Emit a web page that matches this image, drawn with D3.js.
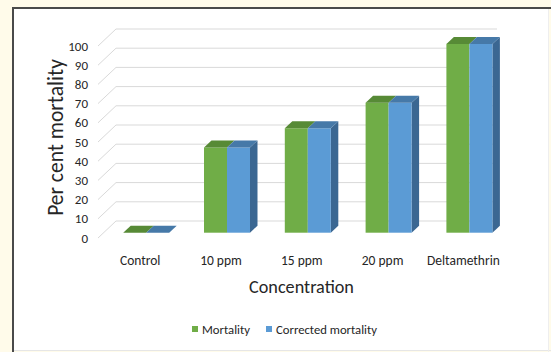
<!DOCTYPE html>
<html>
<head>
<meta charset="utf-8">
<script src="https://cdn.jsdelivr.net/npm/d3@7/dist/d3.min.js"></script>
<style>
  html, body { margin: 0; padding: 0; background: #fffbea; }
  svg { display: block; }
  text { font-family: Carlito, Lato, "Open Sans", sans-serif; fill: #262626; }
</style>
</head>
<body>
<div id="chart"></div>
<script>
// Data
const categories = ["Control", "10 ppm", "15 ppm", "20 ppm", "Deltamethrin"];
const seriesNames = ["Mortality", "Corrected mortality"];
const mortality = [0, 44.4, 54.4, 67.7, 98.3];
const correctedMortality = [0, 44.4, 54.4, 67.7, 98.3];
const yTicks = [0, 10, 20, 30, 40, 50, 60, 70, 80, 90, 100];

const seriesValues = [mortality, correctedMortality];
const frontColors = ["#70ad47", "#5b9bd5"];
const topColors = ["#578a36", "#4679a8"];
const sideColor = "#3b6792";

const W = 551, H = 352;
const svg = d3.select("#chart").append("svg")
  .attr("width", W).attr("height", H);

// Chart panel with an inset frame
svg.append("rect").attr("x", 13).attr("y", 8).attr("width", W - 15).attr("height", H - 10)
  .attr("fill", "#ffffff");
svg.append("line").attr("x1", 13).attr("x2", 13).attr("y1", 7).attr("y2", H)
  .attr("stroke", "#4a4a4a").attr("stroke-width", 2);
svg.append("line").attr("x1", 12).attr("x2", W).attr("y1", 8).attr("y2", 8)
  .attr("stroke", "#4a4a4a").attr("stroke-width", 2);
svg.append("line").attr("x1", 14).attr("x2", W).attr("y1", H - 1.5).attr("y2", H - 1.5)
  .attr("stroke", "#e6e6e6").attr("stroke-width", 1);
svg.append("line").attr("x1", W - 2.5).attr("x2", W - 2.5).attr("y1", 9).attr("y2", H)
  .attr("stroke", "#eeeeee").attr("stroke-width", 1);

// 3D geometry: back wall, front edge and the bar plane in between
const wallDepth = { dx: 18, dy: -17 };
const wallFrontX = 98, wallRight = 497;
const yBack = d3.scaleLinear().domain([0, 100]).range([221, 29]);
const yBar = d3.scaleLinear().domain([0, 100]).range([232.7, 40.7]);
const barDepth = { dx: 7.5, dy: -7 };

const x = d3.scaleBand().domain(categories)
  .range([105.8, 509.8]).paddingInner(0.4307).paddingOuter(0.2153);
const xs = d3.scaleBand().domain(seriesNames).range([0, x.bandwidth()]);

// Gridlines: diagonal on the side wall, horizontal on the back wall
const grid = svg.append("g").attr("stroke", "#d9d9d9").attr("stroke-width", 1).attr("fill", "none");
yTicks.forEach(t => {
  const yb = yBack(t);
  grid.append("path")
    .attr("d", `M${wallFrontX},${yb - wallDepth.dy}L${wallFrontX + wallDepth.dx},${yb}L${wallRight},${yb}`);
});

// Value axis labels
svg.append("g").selectAll("text").data(yTicks).join("text")
  .attr("x", 88).attr("y", d => yBack(d) - wallDepth.dy + 4.5)
  .attr("text-anchor", "end").attr("font-size", 13).text(d => d);

// Bars (front, top and right side faces)
const bars = svg.append("g");
categories.forEach((c, i) => {
  seriesNames.forEach((s, j) => {
    const v = seriesValues[j][i];
    const x0 = x(c) + xs(s), w = xs.bandwidth();
    const yt = yBar(v), yb = yBar(0);
    const dx = barDepth.dx, dy = barDepth.dy;
    if (j === seriesNames.length - 1) {
      bars.append("path")
        .attr("d", `M${x0 + w},${yb}L${x0 + w + dx},${yb + dy}L${x0 + w + dx},${yt + dy}L${x0 + w},${yt}Z`)
        .attr("fill", sideColor);
    }
    bars.append("rect").attr("x", x0).attr("y", yt).attr("width", w).attr("height", yb - yt)
      .attr("fill", frontColors[j]);
    bars.append("path")
      .attr("d", `M${x0},${yt}L${x0 + dx},${yt + dy}L${x0 + w + dx},${yt + dy}L${x0 + w},${yt}Z`)
      .attr("fill", topColors[j]);
  });
});

// Category labels
svg.append("g").selectAll("text").data(categories).join("text")
  .attr("x", d => x(d) + x.bandwidth() / 2 - 6).attr("y", 264.5)
  .attr("text-anchor", "middle").attr("font-size", 13.5).text(d => d);

// Axis titles
svg.append("text").attr("x", 301.5).attr("y", 292.5)
  .attr("text-anchor", "middle").attr("font-size", 18.2).text("Concentration");
svg.append("text").attr("transform", "translate(63,137.5) rotate(-90)")
  .attr("text-anchor", "middle").attr("font-size", 21.5).text("Per cent mortality");

// Legend
const legendItems = [{ name: seriesNames[0], x: 192 }, { name: seriesNames[1], x: 266 }];
const legend = svg.append("g");
legendItems.forEach((d, j) => {
  legend.append("rect").attr("x", d.x).attr("y", 326).attr("width", 6).attr("height", 6)
    .attr("fill", frontColors[j]);
  legend.append("text").attr("x", d.x + 10).attr("y", 334)
    .attr("font-size", 12.7).text(d.name);
});
</script>
</body>
</html>
